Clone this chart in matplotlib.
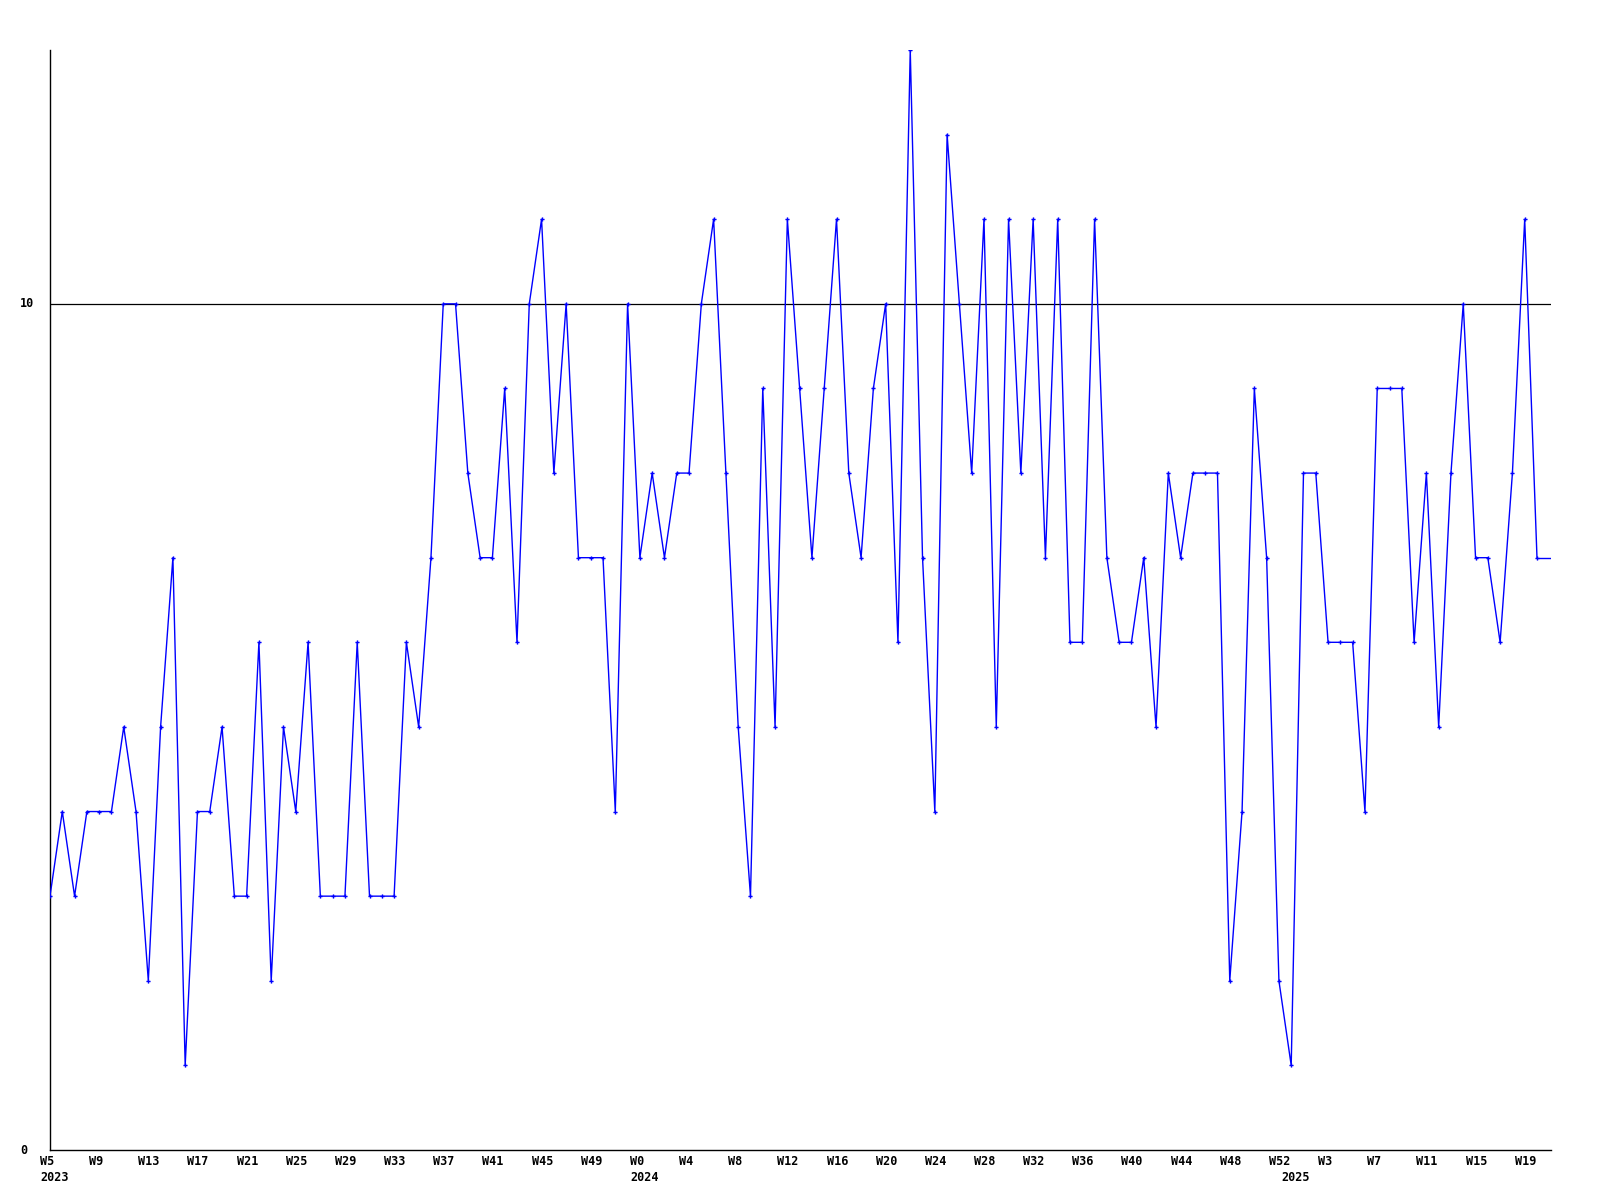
import matplotlib
matplotlib.use("Agg")
import matplotlib.pyplot as plt

# weekly values, 2023 W5 .. 2025 W20
values = [
    3, 4, 3, 4, 4, 4, 5, 4, 2, 5, 7, 1, 4, 4, 5, 3, 3, 6, 2, 5,
    4, 6, 3, 3, 3, 6, 3, 3, 3, 6, 5, 7, 10, 10, 8, 7, 7, 9, 6, 10,
    11, 8, 10, 7, 7, 7, 4, 10, 7, 8, 7, 8, 8, 10, 11, 8, 5, 3, 9, 5,
    11, 9, 7, 9, 11, 8, 7, 9, 10, 6, 13, 7, 4, 12, 10, 8, 11, 5, 11, 8,
    11, 7, 11, 6, 6, 11, 7, 6, 6, 7, 5, 8, 7, 8, 8, 8, 2, 4, 9, 7,
    2, 1, 8, 8, 6, 6, 6, 4, 9, 9, 9, 6, 8, 5, 8, 10, 7, 7, 6, 8,
    11, 7,
]
week_labels = [
    "W5", "W9", "W13", "W17", "W21", "W25", "W29", "W33", "W37", "W41", "W45", "W49",
    "W0", "W4", "W8", "W12", "W16", "W20", "W24", "W28", "W32", "W36", "W40", "W44",
    "W48", "W52", "W3", "W7", "W11", "W15", "W19",
]
year_labels = ["2023", "2024", "2025"]
year_index = [0, 48, 101]
y_ticks = [0, 10]
ref_level = 10

x = list(range(len(values)))
x_max = len(values) - 1 + 1.14

fig = plt.figure(figsize=(16, 12), dpi=100)
ax = fig.add_axes([50 / 1600, 50 / 1200, 1501 / 1600, 1100 / 1200])

ax.plot(x, values, color="#0000ff", linewidth=1.0, marker="P", markersize=3,
        markeredgewidth=0, zorder=3)
# line keeps going flat to the right edge
ax.plot([x[-1], x_max], [values[-1], values[-1]], color="#0000ff", linewidth=1.0, zorder=3)
ax.axhline(ref_level, color="black", linewidth=0.9, zorder=2)

ax.set_xlim(0, x_max)
ax.set_ylim(0, 13)
ax.set_xticks([])
ax.set_yticks([])
for side in ["top", "right"]:
    ax.spines[side].set_visible(False)
for side in ["left", "bottom"]:
    ax.spines[side].set_linewidth(1.0)
    ax.spines[side].set_color("black")

font = dict(family="DejaVu Sans Mono", fontweight="bold", fontsize=8.5)

for k, lab in enumerate(week_labels):
    ax.annotate(lab, xy=(k * 4, 0), xycoords=("data", "axes fraction"),
                xytext=(-10, -5), textcoords="offset pixels",
                ha="left", va="top", **font)
for idx, lab in zip(year_index, year_labels):
    ax.annotate(lab, xy=(idx, 0), xycoords=("data", "axes fraction"),
                xytext=(-10, -21), textcoords="offset pixels",
                ha="left", va="top", **font)
for v in y_ticks:
    ax.annotate(str(v), xy=(0, v), xycoords=("axes fraction", "data"),
                xytext=(-30, 0), textcoords="offset pixels",
                ha="left", va="center", **font)

fig.savefig("out.png", dpi=100)
plt.close(fig)
